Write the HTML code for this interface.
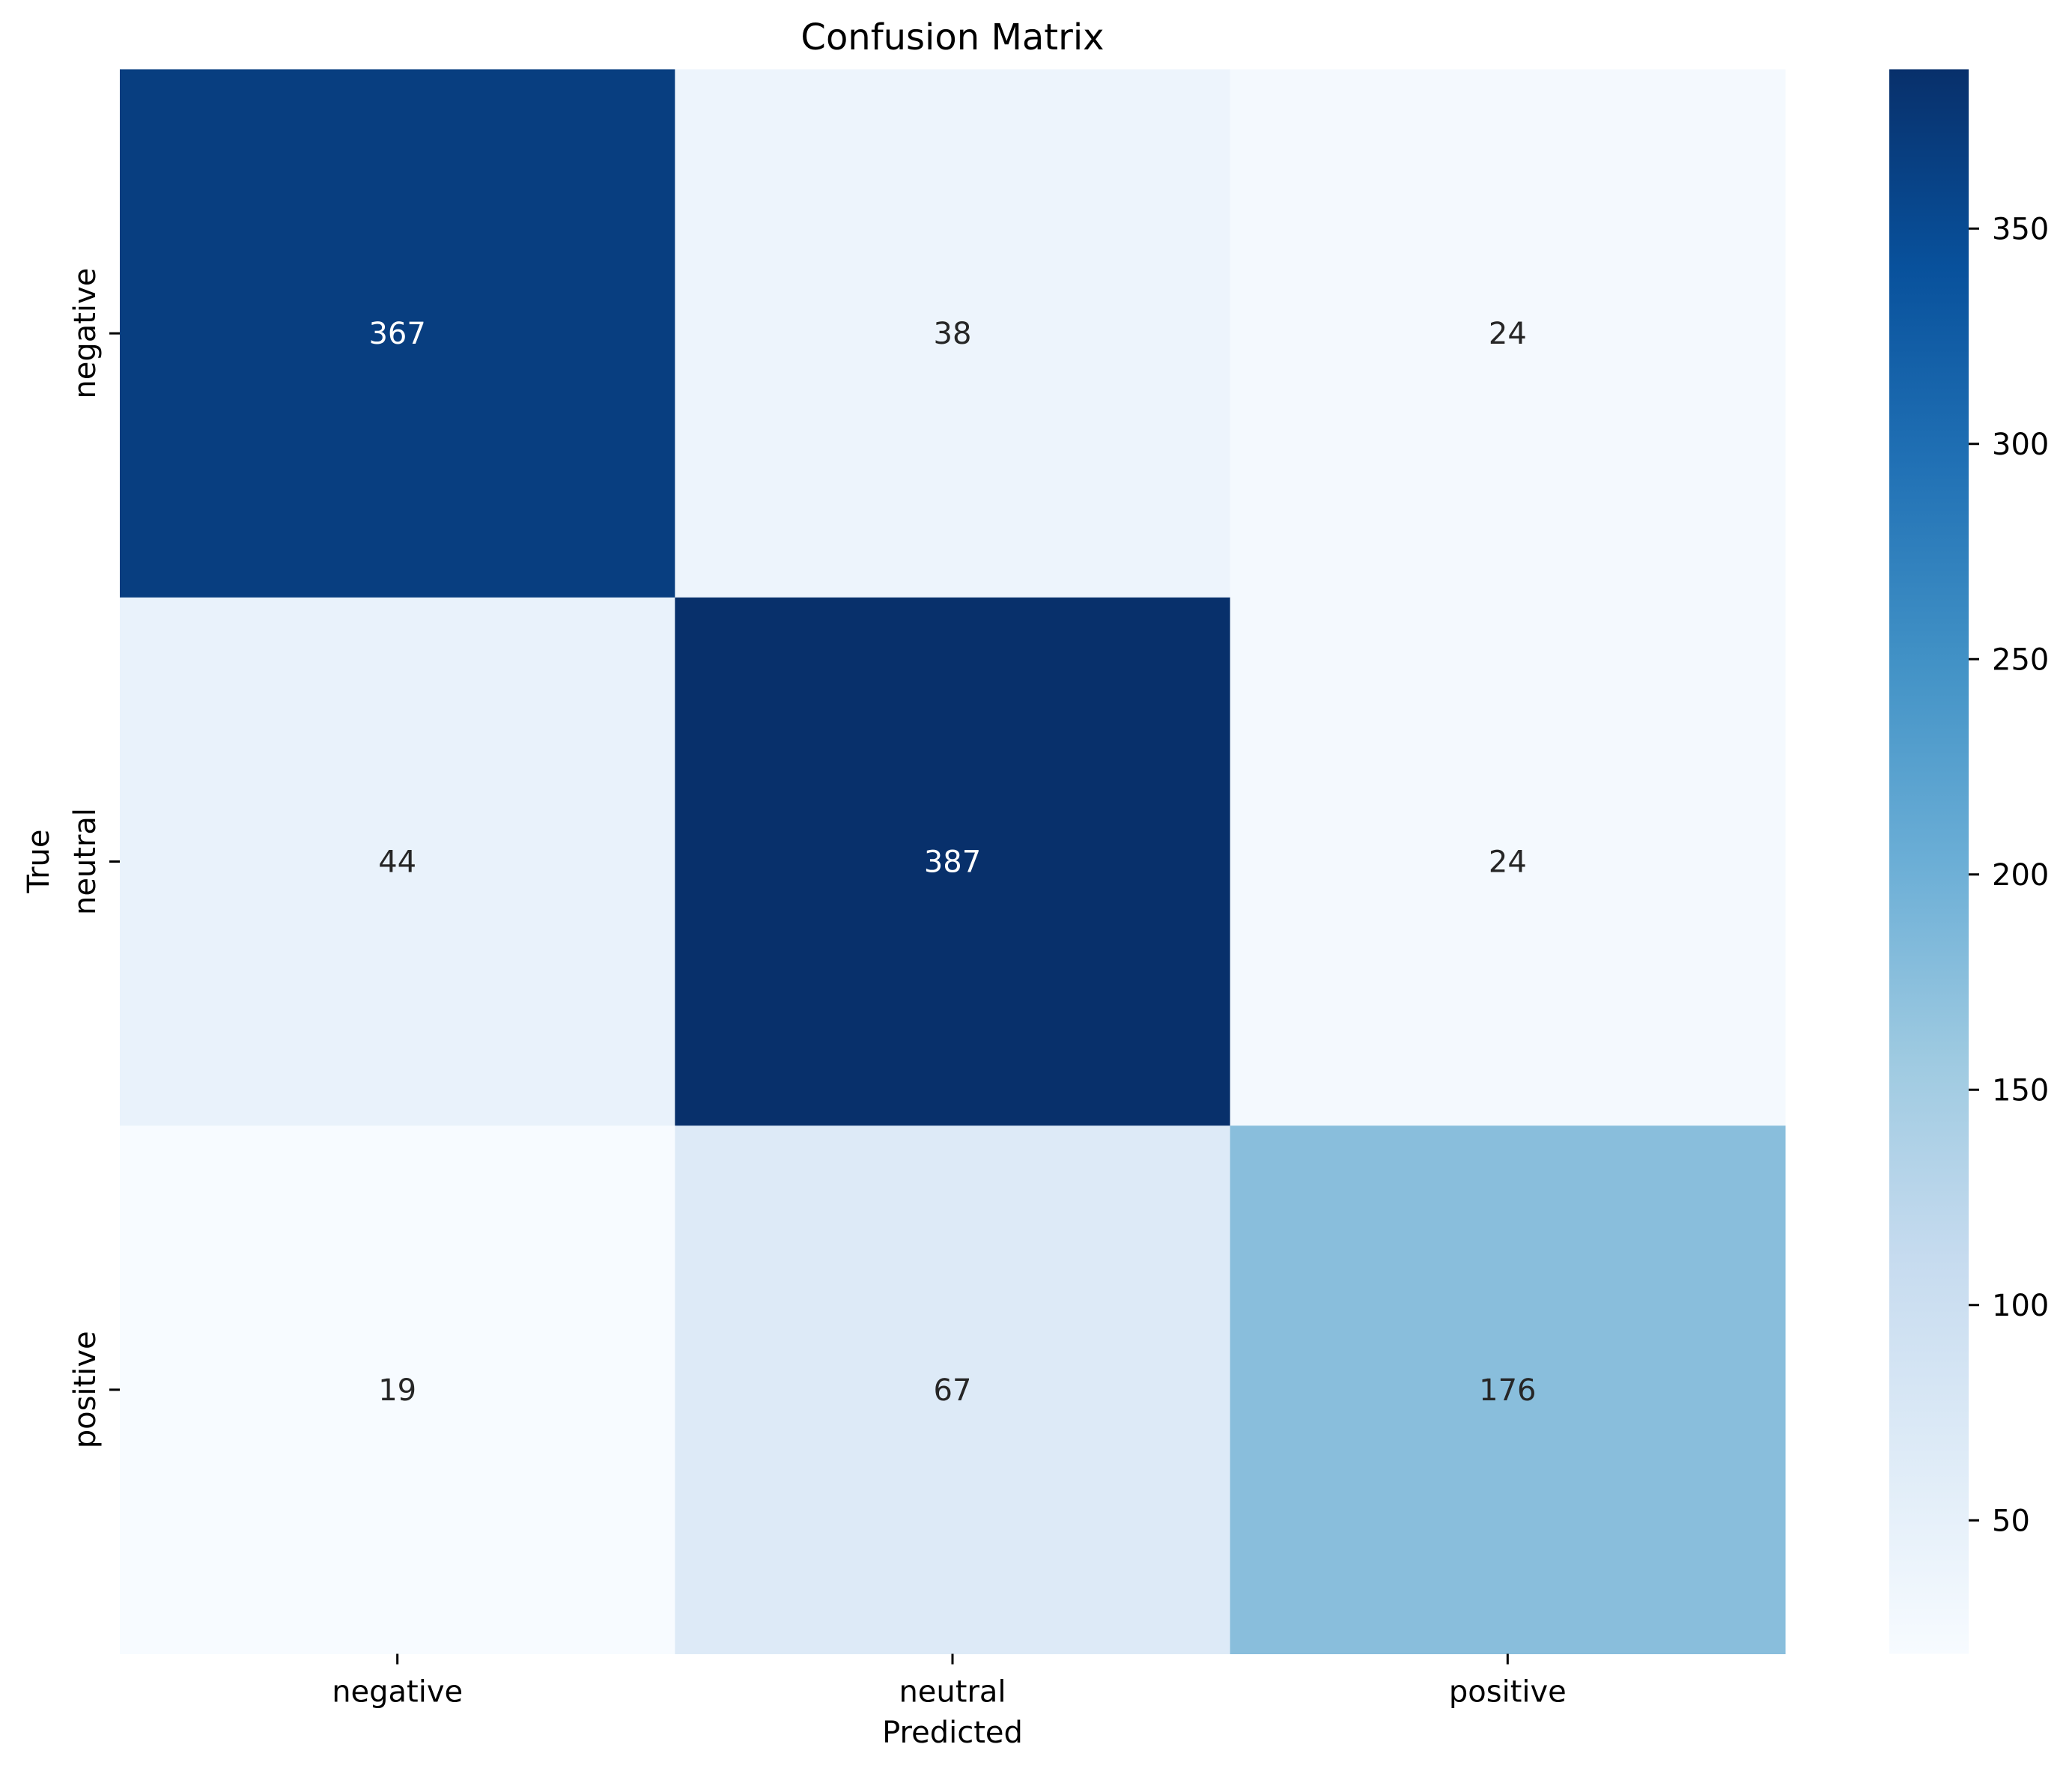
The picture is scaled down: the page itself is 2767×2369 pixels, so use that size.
<!DOCTYPE html>
<html><head><meta charset="utf-8"><style>
html,body{margin:0;padding:0;background:#fff;}
svg{display:block;font-family:"DejaVu Sans","Liberation Sans",sans-serif;}
</style></head><body>
<svg id="chart" width="2767" height="2369" viewBox="0 0 2767 2369" xmlns="http://www.w3.org/2000/svg">
<defs>
<linearGradient id="cbgrad" x1="0" y1="1" x2="0" y2="0">
<stop offset="0" stop-color="#f7fbff"/><stop offset="0.125" stop-color="#deebf7"/><stop offset="0.25" stop-color="#c6dbef"/><stop offset="0.375" stop-color="#9ecae1"/><stop offset="0.5" stop-color="#6baed6"/><stop offset="0.625" stop-color="#4292c6"/><stop offset="0.75" stop-color="#2171b5"/><stop offset="0.875" stop-color="#08519c"/><stop offset="1" stop-color="#08306b"/>
</linearGradient>
</defs>
<text x="1272" y="66" font-size="48" text-anchor="middle">Confusion Matrix</text>
<g id="cells"></g>
<g id="axes"></g>
<rect x="2523" y="92.5" width="106" height="2116" fill="url(#cbgrad)"/>
<g id="cbticks"></g>
<text x="1272" y="2327" font-size="40" text-anchor="middle">Predicted</text>
<text transform="translate(65,1150) rotate(-90)" font-size="40" text-anchor="middle">True</text>
</svg>
<script>
const labels = ["negative", "neutral", "positive"];
const row0 = [367, 38, 24];
const row1 = [44, 387, 24];
const row2 = [19, 67, 176];
const cbTicks = [50, 100, 150, 200, 250, 300, 350];

const matrix = [row0, row1, row2];
const L = 160, R = 2384, T = 92.5, B = 2208.5;
const all = matrix.flat();
const vmin = Math.min(...all), vmax = Math.max(...all);
const n = labels.length;
const cw = (R - L) / n, ch = (B - T) / n;
const NS = "http://www.w3.org/2000/svg";
const stops = ["#f7fbff","#deebf7","#c6dbef","#9ecae1","#6baed6","#4292c6","#2171b5","#08519c","#08306b"];
function hex(h){return [1,3,5].map(i=>parseInt(h.substr(i,2),16));}
function color(v){
  let t = (v - vmin) / (vmax - vmin); t = Math.max(0, Math.min(1, t));
  const p = t * 8, i = Math.min(7, Math.floor(p)), f = p - i;
  const a = hex(stops[i]), b = hex(stops[i+1]);
  const c = a.map((x,k)=>Math.round(x + (b[k]-x)*f));
  return "rgb(" + c.join(",") + ")";
}
function lum(v){return (v-vmin)/(vmax-vmin);}
function yScale(v){ return B - (v - vmin) / (vmax - vmin) * (B - T); }
function mk(tag, attrs, parent){const e=document.createElementNS(NS,tag);for(const k in attrs)e.setAttribute(k,attrs[k]);parent.appendChild(e);return e;}
const cells = document.getElementById("cells");
const axes = document.getElementById("axes");
for (let r = 0; r < n; r++) {
  for (let c = 0; c < n; c++) {
    const v = matrix[r][c];
    const rect = mk("rect", {x: L + c*cw, y: T + r*ch, width: cw + 0.5, height: ch + 0.5, fill: color(v)}, cells);
    
    
    const t = mk("text", {x: L + (c+0.5)*cw, y: T + (r+0.5)*ch + 14, "font-size": 40, "text-anchor": "middle", fill: lum(v) > 0.6 ? "#ffffff" : "#262626"}, cells);
    t.textContent = v;
    
    
  }
}
for (let i = 0; i < n; i++) {
  const cx = L + (i+0.5)*cw;
  mk("line", {x1: cx, y1: B, x2: cx, y2: B+14, stroke: "#000", "stroke-width": 3}, axes);
  const xt = mk("text", {x: cx, y: B + 64, "font-size": 40, "text-anchor": "middle"}, axes);
  xt.textContent = labels[i];
  
  
  const cy = T + (i+0.5)*ch;
  mk("line", {x1: L-14, y1: cy, x2: L, y2: cy, stroke: "#000", "stroke-width": 3}, axes);
  const yt = mk("text", {transform: "translate(127," + cy + ") rotate(-90)", "font-size": 40, "text-anchor": "middle"}, axes);
  yt.textContent = labels[i];
  
  
}
const cbt = document.getElementById("cbticks");
cbTicks.forEach(v => {
  const y = yScale(v);
  mk("line", {x1: 2629, y1: y, x2: 2643, y2: y, stroke: "#000", "stroke-width": 3}, cbt);
  const t = mk("text", {x: 2660, y: y + 14, "font-size": 40}, cbt);
  t.textContent = v;
  
  
});
</script>
</body></html>
